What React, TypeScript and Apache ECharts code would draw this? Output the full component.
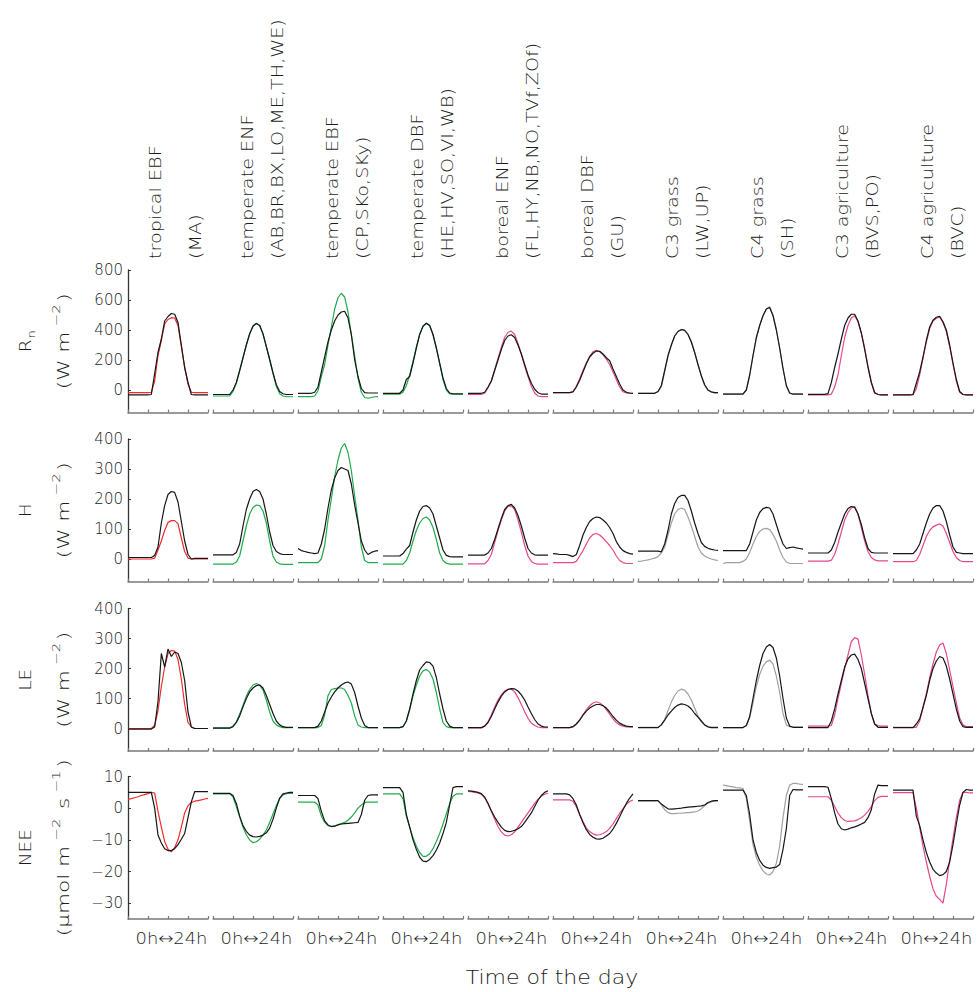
import React, { useEffect, useRef } from "react";
import * as echarts from "echarts";

// ---------- data ----------
const HOURS = [0, 1, 2, 3, 4, 5, 6, 7, 8, 9, 10, 11, 12, 13, 14, 15, 16, 17, 18, 19, 20, 21, 22, 23, 24];

const BIOME_TITLES = [
  "tropical EBF", "temperate ENF", "temperate EBF", "temperate DBF", "boreal ENF",
  "boreal DBF", "C3 grass", "C4 grass", "C3 agriculture", "C4 agriculture",
];
const BIOME_SITES = [
  "(MA)", "(AB,BR,BX,LO,ME,TH,WE)", "(CP,SKo,SKy)", "(HE,HV,SO,VI,WB)", "(FL,HY,NB,NO,TVf,ZOf)",
  "(GU)", "(LW,UP)", "(SH)", "(BVS,PO)", "(BVC)",
];
const MODEL_COLORS = [
  "#ef2b2d", "#1fab4c", "#1fab4c", "#1fab4c", "#e6478d",
  "#e6478d", "#a0a0a0", "#a0a0a0", "#e6478d", "#e6478d",
];
const OBS_COLOR = "#161616";

const ROW_NAMES = ["{b|R}{sub|n}", "{b|H}", "{b|LE}", "{b|NEE}"];
const ROW_UNITS = [
  "{b|(W m}{sup|\u22122}{b|)}",
  "{b|(W m}{sup|\u22122}{b|)}",
  "{b|(W m}{sup|\u22122}{b|)}",
  "{b|(\u03bcmol m}{sup|\u22122}{b| s}{sup|\u22121}{b|)}",
];
const ROW_MIN = [-150, -75, -75, -35];
const ROW_MAX = [800, 400, 400, 10];
const RN_TICKS = [0, 200, 400, 600, 800];
const H_TICKS = [0, 100, 200, 300, 400];
const LE_TICKS = [0, 100, 200, 300, 400];
const NEE_TICKS = [-30, -20, -10, 0, 10];
const X_LABEL = "0h\u219424h";
const X_TITLE = "Time of the day";

// Net radiation (W m-2), observed / modelled, per biome
const RN_OBS = [
  [-33,-33,-33,-33,-33,-33,-33,-30,110,250,340,460,490,510,505,450,300,150,50,-30,-33,-33,-33,-33,-33],
  [-30,-30,-30,-30,-30,-30,0,50,130,215,300,375,425,443,430,375,290,205,115,35,-10,-25,-30,-30,-30],
  [-22,-22,-22,-22,-22,-15,20,120,220,320,400,460,500,520,525,480,370,200,90,10,-18,-20,-20,-20,-20],
  [-22,-22,-22,-22,-22,-22,0,70,90,180,280,370,425,445,430,370,280,180,80,10,-20,-25,-25,-25,-25],
  [-22,-22,-22,-22,-22,-15,20,60,130,200,270,330,360,368,350,300,240,170,100,45,5,-18,-27,-27,-27],
  [-18,-18,-18,-18,-18,-18,-12,20,65,120,175,220,245,260,258,240,215,195,140,90,40,0,-15,-20,-22],
  [-22,-22,-22,-22,-22,-22,-10,30,130,230,300,360,390,402,398,370,320,250,170,95,35,0,-12,-18,-18],
  [-27,-27,-27,-27,-27,-27,-27,0,100,230,350,430,495,540,550,495,400,280,145,30,-20,-28,-28,-28,-28],
  [-29,-29,-29,-29,-29,-29,-24,50,150,240,340,430,480,505,505,460,380,270,150,50,-20,-30,-33,-33,-33],
  [-33,-33,-33,-33,-33,-33,-30,45,120,220,330,420,465,485,492,455,400,300,180,70,-10,-30,-33,-33,-33],
];
const RN_MOD = [
  [-18,-18,-18,-18,-18,-18,-18,-15,60,230,330,440,470,482,480,430,290,150,40,-15,-18,-18,-18,-18,-18],
  [-40,-40,-40,-40,-40,-40,-10,45,128,215,300,375,427,445,430,373,288,200,110,25,-25,-40,-45,-45,-45],
  [-44,-44,-44,-44,-44,-40,-5,90,170,300,420,540,615,645,620,520,370,230,80,-15,-50,-55,-50,-45,-44],
  [-28,-28,-28,-28,-28,-28,-15,30,100,190,285,370,425,445,430,370,280,175,70,0,-25,-30,-30,-30,-30],
  [-30,-30,-30,-30,-30,-22,15,60,135,210,285,350,385,393,370,310,240,160,90,25,-20,-40,-44,-44,-44],
  [-18,-18,-18,-18,-18,-18,-10,25,75,130,180,225,255,265,255,235,205,170,120,70,20,-12,-20,-22,-22],
  [-22,-22,-22,-22,-22,-22,-12,20,120,225,300,360,392,405,400,372,322,250,168,92,30,-3,-14,-20,-20],
  [-25,-25,-25,-25,-25,-25,-25,0,95,225,345,430,495,540,555,500,405,280,140,25,-22,-25,-25,-25,-25],
  [-33,-33,-33,-33,-33,-33,-33,-28,20,100,230,350,430,480,495,455,380,280,160,50,-15,-30,-33,-33,-33],
  [-33,-33,-33,-33,-33,-33,-33,10,100,210,320,410,460,478,485,450,390,290,170,60,-15,-30,-33,-33,-33],
];

// Sensible heat (W m-2)
const H_OBS = [
  [5,5,5,5,5,5,5,5,12,40,120,178,215,225,222,190,125,60,15,0,2,2,2,2,2],
  [14,14,14,14,14,14,14,22,50,110,165,200,225,232,225,200,150,90,45,25,18,15,15,15,15],
  [35,28,25,22,20,18,20,50,100,170,230,270,295,305,300,295,250,180,120,60,30,15,22,26,28],
  [10,10,10,10,10,10,18,33,45,90,130,160,175,178,170,150,110,70,30,12,8,7,7,7,7],
  [13,13,13,13,13,13,20,35,65,100,135,165,178,182,170,145,110,70,35,20,14,13,13,13,13],
  [18,17,15,15,15,12,8,15,45,80,105,125,135,140,138,130,120,105,85,58,40,28,22,18,16],
  [26,26,26,26,26,26,26,24,50,95,150,185,205,212,212,195,160,120,85,55,42,36,32,30,29],
  [28,28,28,28,28,28,28,28,50,90,130,155,168,172,170,150,115,80,50,35,38,40,37,35,33],
  [20,20,20,20,20,20,20,30,55,90,120,150,168,175,172,150,115,70,35,22,20,20,20,20,20],
  [18,18,18,18,18,18,18,30,50,85,120,150,170,178,178,160,125,80,40,22,20,18,18,18,18],
];
const H_MOD = [
  [0,0,0,0,0,0,0,0,3,30,60,95,122,128,128,118,70,25,3,0,0,0,0,0,0],
  [-17,-17,-17,-17,-17,-17,-17,-10,10,60,110,150,172,180,178,160,120,60,10,-10,-16,-18,-18,-18,-18],
  [-12,-12,-12,-12,-12,-12,-12,0,45,130,200,275,330,370,385,355,295,210,130,40,-5,-12,-12,-12,-12],
  [-17,-17,-17,-17,-17,-17,-17,-5,20,60,95,120,135,140,130,105,65,20,-5,-14,-17,-17,-17,-17,-17],
  [-16,-16,-16,-16,-16,-16,-5,15,55,95,130,160,175,177,165,130,90,45,10,-8,-15,-17,-17,-17,-17],
  [-12,-12,-12,-12,-12,-12,-12,-8,10,28,50,70,82,85,80,70,58,45,30,10,-5,-12,-15,-15,-15],
  [-8,-7,-5,-3,0,3,8,20,40,80,120,150,165,170,165,140,110,75,40,20,10,4,0,-3,-5],
  [-15,-12,-12,-12,-12,-12,-8,0,22,50,75,92,100,102,98,82,60,30,5,-10,-15,-15,-15,-15,-15],
  [-7,-7,-7,-7,-7,-7,-7,-4,15,50,90,130,155,170,175,150,105,60,25,5,-3,-6,-6,-6,-6],
  [-9,-9,-9,-9,-9,-9,-9,-5,15,45,75,95,107,113,117,110,85,55,25,5,-5,-9,-9,-9,-9],
];

// Latent heat (W m-2)
const LE_OBS = [
  [-2,-2,-2,-2,-2,-2,-2,-2,5,90,250,205,265,240,255,250,220,160,55,5,0,0,0,0,0],
  [1,1,1,1,1,1,6,20,42,72,100,122,135,143,145,135,110,80,50,25,12,6,4,4,4],
  [3,3,3,3,3,3,8,25,55,85,105,122,135,145,152,155,148,120,75,35,10,3,3,3,3],
  [3,3,3,3,3,3,6,25,65,115,160,195,210,222,220,208,170,115,65,25,8,3,3,3,3],
  [3,3,3,3,3,8,20,40,65,88,108,122,130,133,132,125,112,95,72,50,30,15,8,5,5],
  [3,3,3,3,3,3,6,15,28,45,58,68,75,80,80,76,68,55,40,28,18,12,8,6,6],
  [3,3,3,3,3,3,3,12,28,45,58,70,78,82,80,75,65,50,38,25,12,5,3,3,3],
  [3,3,3,3,3,3,3,10,40,100,160,210,250,272,280,270,235,175,100,35,8,4,4,4,4],
  [3,3,3,3,3,3,3,25,65,115,160,205,232,245,248,230,200,150,100,50,15,4,4,4,4],
  [3,3,3,3,3,3,3,15,32,70,110,160,200,225,240,235,208,165,115,65,25,6,4,4,4],
];
const LE_MOD = [
  [0,0,0,0,0,0,0,0,10,60,140,205,250,260,258,230,165,80,20,5,0,0,0,0,0],
  [2,2,2,2,2,2,8,22,48,78,108,130,145,150,145,128,95,55,25,12,6,3,3,3,3],
  [3,3,3,3,3,3,3,10,45,110,130,133,135,135,130,110,85,42,12,5,3,3,3,3,3],
  [3,3,3,3,3,3,6,25,62,108,145,175,192,197,188,165,120,65,20,6,3,3,3,3,3],
  [2,2,2,2,2,8,22,45,72,95,112,125,131,131,122,103,80,56,34,18,10,5,3,3,3],
  [3,3,3,3,3,3,6,15,28,45,62,75,85,89,85,77,63,48,32,20,12,8,5,5,5],
  [4,4,4,4,4,4,4,12,30,60,88,110,125,131,128,115,95,68,42,22,12,7,5,5,5],
  [3,3,3,3,3,3,3,10,35,85,140,180,208,222,228,215,175,120,50,12,6,5,5,5,5],
  [8,8,8,8,8,8,8,10,45,100,150,200,245,290,303,298,245,180,110,50,15,10,8,8,8],
  [4,4,4,4,4,4,4,4,25,70,115,170,215,255,278,285,250,195,140,85,35,12,6,6,6],
];

// Net ecosystem exchange (umol m-2 s-1)
const NEE_OBS = [
  [5,5,5,5,5,5,5,5,0,-8.5,-11,-12.8,-13.4,-13.4,-12.8,-11.5,-9.8,-8,-3,2,5.2,5.2,5.2,5.2,5.2],
  [4.7,4.7,4.7,4.7,4.7,4.7,4,1.5,-2.5,-5.5,-7.3,-8.5,-9,-9.1,-8.9,-8.5,-7.8,-6.3,-3.5,0,3.2,4.5,4.8,5,5],
  [4,4,4,4,4,4,3,-1,-4,-5.3,-5.8,-5.7,-5.3,-5,-4.9,-4.8,-4.7,-4.6,-4.5,-2,2.5,4,4.2,4.2,4.2],
  [6.5,6.5,6.5,6.5,6.5,6.5,5,-2,-6,-10,-13,-15.5,-16.7,-16.9,-16.2,-15,-13.3,-11,-8,-4.5,1,6.5,6.8,6.8,6.8],
  [5.5,5.4,5.2,5,4.6,3.5,1.5,-0.8,-2.8,-4.5,-6,-7,-7.4,-7.3,-7,-6.5,-5.8,-4.5,-3,-1.5,0.5,2.5,4,5,5.5],
  [4.5,4.5,4.5,4.5,4.5,4.2,3,1,-2,-4.6,-6.8,-8.3,-9.2,-9.7,-9.8,-9.5,-8.8,-8,-6.6,-4.8,-2.7,-0.5,1.5,3.2,4.5],
  [2.4,2.4,2.4,2.4,2.4,2.4,2.4,1.3,0.5,-0.2,-0.3,-0.2,-0.1,0,0.2,0.3,0.4,0.5,0.6,0.7,1,1.8,2.2,2.4,2.4],
  [5.7,5.7,5.7,5.7,5.7,5.7,5.7,4,-2,-10,-14,-16.5,-18,-18.7,-19,-18.8,-18.6,-17.8,-13,-6.5,4,5.9,5.8,5.8,5.8],
  [6.8,6.8,6.8,6.8,6.8,6.8,6.6,3,-1.5,-5,-6.5,-6.9,-6.6,-6.2,-5.9,-5.5,-5,-4.5,-3,-0.5,4.5,7.3,7.1,7.1,7.1],
  [5.7,5.7,5.7,5.7,5.7,5.7,5.7,-2.5,-5.5,-10,-14,-17,-19.3,-20.5,-21.3,-21,-20,-17,-11.5,-5,1,5,5.9,5.7,5.7],
];
const NEE_MOD = [
  [2.8,3.0,3.3,3.6,4.0,4.3,4.6,5.0,4.8,-1,-6,-10.5,-13,-13.8,-12.5,-10,-6,-1.5,0.8,1.8,2.2,2.4,2.6,2.9,3.1],
  [4.5,4.5,4.5,4.5,4.5,4.5,3.6,0.5,-2.8,-6,-8.4,-10,-10.9,-10.6,-9.8,-8.5,-6.9,-4.5,-1.8,0.8,3,4.2,4.6,4.7,4.7],
  [1.9,1.9,1.9,1.9,1.9,1.9,1,-2.5,-4.5,-5.5,-5.8,-5.6,-5.2,-4.9,-4.5,-3.8,-2.8,-1.5,0,1,1.8,1.9,1.9,1.9,1.9],
  [4.5,4.5,4.5,4.5,4.5,4.5,3,-2.5,-6,-9.3,-12,-14,-15.2,-15.2,-14.4,-12.8,-10.5,-8,-5,-1.8,1.5,3.8,4.5,4.5,4.5],
  [5.3,5.2,5,4.8,4.4,3.3,1.5,-1,-3.5,-5.8,-7.5,-8.5,-8.8,-8.4,-7.5,-6,-4.5,-3,-1.5,0,1.5,2.8,3.8,4.4,4.7],
  [2.6,2.6,2.6,2.6,2.6,2.6,2.2,0.5,-2,-4.2,-6.3,-7.4,-8.1,-8.5,-8.4,-8,-7.4,-6.4,-5,-3.3,-1.6,-0.2,1.2,2.1,2.6],
  [2.3,2.3,2.3,2.3,2.3,2.3,2.3,1.2,-0.5,-1.4,-1.7,-1.7,-1.6,-1.6,-1.5,-1.4,-1.3,-1.2,-0.9,-0.2,0.8,1.6,2,2.3,2.3],
  [7.3,7.1,6.9,6.7,6.5,6.4,6.2,3,-4,-11.5,-15.5,-18,-19.8,-20.8,-21.1,-20,-17.5,-12,-3,4,7.3,7.8,7.8,7.6,7.5],
  [3.6,3.6,3.6,3.6,3.6,3.6,3.6,2.5,0.5,-1.5,-3,-3.9,-4.2,-4.1,-4,-3.6,-3,-2.2,-1,0.5,2.4,3.4,3.7,3.7,3.7],
  [4.9,4.9,4.9,4.9,4.9,4.9,4.9,0,-6,-12,-17,-21.5,-25.5,-27.8,-28.8,-30,-24,-16.5,-9.5,-3,2.5,5,5,4.8,4.8],
];

const ROW_OBS = [RN_OBS, H_OBS, LE_OBS, NEE_OBS];
const ROW_MOD = [RN_MOD, H_MOD, LE_MOD, NEE_MOD];
const ROW_TICKS = [RN_TICKS, H_TICKS, LE_TICKS, NEE_TICKS];

// ---------- layout ----------
const FONT = '"DejaVu Sans", "Liberation Sans", sans-serif';
const WEIGHT = 300;
const TEXT = "#1c1c1c";
const PANEL_LEFT0 = 128;
const PANEL_STEP = 85;
const PANEL_W = 80;
const PANEL_H = 142.5;
const ROW_TOPS = [270, 439, 608.5, 776.5];

function fmtTick(v: number): string {
  return v < 0 ? "\u2212" + Math.abs(v) : String(v);
}

function buildOption(): any {
  const grid: any[] = [];
  const xAxis: any[] = [];
  const yAxis: any[] = [];
  const series: any[] = [];
  const graphic: any[] = [];

  for (let r = 0; r < 4; r++) {
    for (let c = 0; c < 10; c++) {
      const idx = r * 10 + c;
      const left = PANEL_LEFT0 + PANEL_STEP * c;
      grid.push({
        left, top: ROW_TOPS[r], width: PANEL_W, height: PANEL_H,
        containLabel: false, outerBoundsMode: "none",
      });
      xAxis.push({
        gridIndex: idx, type: "value", min: 0, max: 24, interval: 6,
        axisLine: { show: true, onZero: false, lineStyle: { color: "#7a7a7a", width: 1.5 } },
        axisTick: { show: true, inside: true, length: 3, lineStyle: { color: "#7a7a7a", width: 1.2 } },
        axisLabel: { show: false },
        splitLine: { show: false },
      });
      const ticks = ROW_TICKS[r];
      yAxis.push({
        gridIndex: idx, type: "value", min: ROW_MIN[r], max: ROW_MAX[r],
        show: c === 0,
        axisLine: { show: true, onZero: false, lineStyle: { color: "#333", width: 1.3 } },
        axisTick: { show: true, inside: true, length: 3, customValues: ticks, lineStyle: { color: "#333", width: 1 } },
        axisLabel: {
          show: true, customValues: ticks, formatter: (v: number) => fmtTick(v),
          fontSize: 15, fontFamily: FONT, fontWeight: WEIGHT, color: TEXT, margin: 5,
        },
        splitLine: { show: false },
      });
      const mod = ROW_MOD[r][c];
      const obs = ROW_OBS[r][c];
      series.push({
        type: "line", xAxisIndex: idx, yAxisIndex: idx,
        data: HOURS.map((h, i) => [h, mod[i]]),
        showSymbol: false, symbol: "none", silent: true,
        lineStyle: { color: MODEL_COLORS[c], width: 1.2 },
        itemStyle: { color: MODEL_COLORS[c] },
        z: 2,
      });
      series.push({
        type: "line", xAxisIndex: idx, yAxisIndex: idx,
        data: HOURS.map((h, i) => [h, obs[i]]),
        showSymbol: false, symbol: "none", silent: true,
        lineStyle: { color: OBS_COLOR, width: 1.2 },
        itemStyle: { color: OBS_COLOR },
        z: 3,
      });
    }
  }

  // column headers (rotated)
  for (let c = 0; c < 10; c++) {
    const left = PANEL_LEFT0 + PANEL_STEP * c;
    const xs = c === 0 ? [left + 28, left + 68] : [left + 34.5, left + 65];
    const texts = [BIOME_TITLES[c], BIOME_SITES[c]];
    for (let k = 0; k < 2; k++) {
      graphic.push({
        type: "text", x: xs[k], y: 259, rotation: Math.PI / 2, scaleX: 1.2, silent: true,
        style: {
          text: texts[k], fill: TEXT, fontSize: 16, fontFamily: FONT, fontWeight: WEIGHT,
          align: "left", verticalAlign: "middle", textAlign: "left", textVerticalAlign: "middle",
        },
      });
    }
    // x labels under each panel
    graphic.push({
      type: "text", x: left + PANEL_W / 2 + 3.5, y: 938, scaleX: 1.12, silent: true,
      style: {
        text: X_LABEL, fill: TEXT, fontSize: 16, fontFamily: FONT, fontWeight: WEIGHT,
        align: "center", verticalAlign: "middle", textAlign: "center", textVerticalAlign: "middle",
      },
    });
  }

  // row labels
  const rich = {
    b: { fontSize: 16, fontFamily: FONT, fontWeight: WEIGHT, fill: TEXT, lineHeight: 24 },
    sup: { fontSize: 11, fontFamily: FONT, fontWeight: WEIGHT, fill: TEXT, lineHeight: 11, verticalAlign: "top", padding: [0, 2, 0, 4] },
    sub: { fontSize: 11, fontFamily: FONT, fontWeight: WEIGHT, fill: TEXT, lineHeight: 11, verticalAlign: "bottom", padding: [0, 0, 0, 1] },
  };
  for (let r = 0; r < 4; r++) {
    const cy = ROW_TOPS[r] + PANEL_H / 2;
    graphic.push({
      type: "text", x: 25, y: cy, rotation: Math.PI / 2, scaleX: 1.15, silent: true,
      style: {
        text: ROW_NAMES[r], rich, fill: TEXT, fontSize: 16, fontFamily: FONT, fontWeight: WEIGHT,
        align: "center", verticalAlign: "middle", textAlign: "center", textVerticalAlign: "middle",
      },
    });
    graphic.push({
      type: "text", x: 63, y: cy, rotation: Math.PI / 2, scaleX: 1.35, silent: true,
      style: {
        text: ROW_UNITS[r], rich, fill: TEXT, fontSize: 16, fontFamily: FONT, fontWeight: WEIGHT,
        align: "center", verticalAlign: "middle", textAlign: "center", textVerticalAlign: "middle",
      },
    });
  }

  graphic.push({
    type: "text", x: 552, y: 977, scaleX: 1.1, silent: true,
    style: {
      text: X_TITLE, fill: TEXT, fontSize: 20, fontFamily: FONT, fontWeight: WEIGHT,
      align: "center", verticalAlign: "middle", textAlign: "center", textVerticalAlign: "middle",
    },
  });

  return {
    animation: false,
    backgroundColor: "#ffffff",
    grid, xAxis, yAxis, series, graphic,
  };
}

export default function App() {
  const ref = useRef<HTMLDivElement>(null);
  useEffect(() => {
    document.body.style.margin = "0";
    const chart = echarts.init(ref.current as HTMLDivElement, null, { renderer: "svg" });
    chart.setOption(buildOption());
    return () => chart.dispose();
  }, []);
  return <div ref={ref} style={{ width: 978, height: 992 }} />;
}
